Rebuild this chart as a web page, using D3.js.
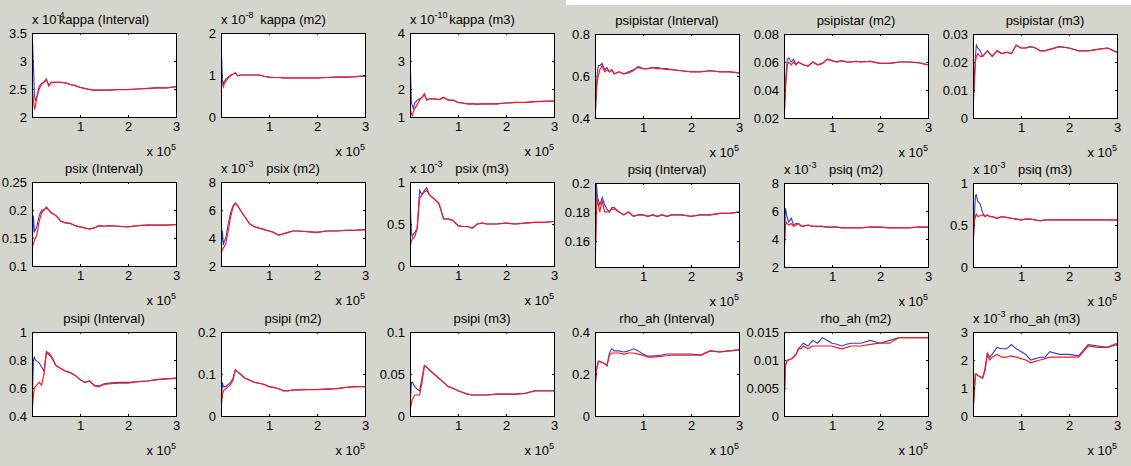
<html>
<head>
	<title>convergence plots</title>
	<script src="https://d3js.org/d3.v7.min.js"></script>
	<style>
		body { margin: 0; background: #fff; }
		text { font-family: "Liberation Sans", Arial, sans-serif; font-size: 13px; fill: #000; }
		.box { fill: none; stroke: #000; stroke-width: 1; shape-rendering: crispEdges; }
		.tick line { stroke: #000; shape-rendering: crispEdges; }
		.blue { fill: none; stroke: #3a3ad0; stroke-width: 1.1; }
		.red { fill: none; stroke: #ff1a1a; stroke-width: 1.2; }
	</style>
</head>
<body>
<svg width="1131" height="466"></svg>
<script>
// iterations, in units of 1e5
const iters = [0.01, 0.03, 0.05, 0.07, 0.1, 0.15, 0.2, 0.25, 0.3, 0.35, 0.4, 0.5, 0.6, 0.7, 0.8, 0.9, 1.0, 1.1, 1.2, 1.3, 1.4, 1.5, 1.6, 1.8, 2.0, 2.2, 2.4, 2.6, 2.8, 3.0];
const xTicks = [1, 2, 3];

// left figure
const kappaIntBlue = [3.4, 2.9, 2.4, 2.3, 2.35, 2.55, 2.6, 2.62, 2.66, 2.57, 2.62, 2.62, 2.62, 2.61, 2.58, 2.56, 2.53, 2.51, 2.49, 2.48, 2.48, 2.48, 2.48, 2.49, 2.49, 2.5, 2.51, 2.52, 2.52, 2.54];
const kappaIntRed = [2.45, 2.3, 2.15, 2.18, 2.35, 2.5, 2.58, 2.63, 2.68, 2.55, 2.62, 2.62, 2.62, 2.61, 2.58, 2.56, 2.53, 2.51, 2.49, 2.48, 2.48, 2.48, 2.48, 2.49, 2.49, 2.5, 2.51, 2.52, 2.52, 2.54];
const kappaM2Blue = [1.55, 0.85, 0.8, 0.85, 0.9, 0.95, 1.0, 1.02, 1.05, 0.98, 1.0, 1.0, 1.0, 1.0, 1.0, 0.97, 0.95, 0.94, 0.94, 0.93, 0.93, 0.93, 0.93, 0.93, 0.93, 0.94, 0.95, 0.95, 0.96, 0.98];
const kappaM2Red = [0.85, 0.8, 0.72, 0.8, 0.85, 0.93, 0.98, 1.02, 1.05, 0.98, 1.0, 1.0, 1.0, 1.0, 1.0, 0.97, 0.95, 0.94, 0.94, 0.93, 0.93, 0.93, 0.93, 0.93, 0.93, 0.94, 0.95, 0.95, 0.96, 0.98];
const kappaM3Blue = [2.7, 1.5, 1.4, 1.3, 1.5, 1.6, 1.65, 1.7, 1.8, 1.6, 1.65, 1.65, 1.62, 1.7, 1.6, 1.6, 1.52, 1.5, 1.47, 1.47, 1.46, 1.47, 1.47, 1.47, 1.5, 1.52, 1.52, 1.55, 1.56, 1.57];
const kappaM3Red = [1.25, 1.1, 1.05, 1.2, 1.3, 1.45, 1.6, 1.7, 1.83, 1.6, 1.65, 1.65, 1.62, 1.7, 1.6, 1.6, 1.52, 1.5, 1.47, 1.47, 1.46, 1.47, 1.47, 1.47, 1.5, 1.52, 1.52, 1.55, 1.56, 1.57];
const psixIntBlue = [0.15, 0.19, 0.16, 0.165, 0.17, 0.19, 0.2, 0.2, 0.205, 0.2, 0.195, 0.19, 0.18, 0.177, 0.176, 0.172, 0.17, 0.168, 0.166, 0.168, 0.172, 0.171, 0.172, 0.171, 0.17, 0.172, 0.173, 0.173, 0.173, 0.174];
const psixIntRed = [0.135, 0.14, 0.145, 0.15, 0.155, 0.18, 0.195, 0.2, 0.205, 0.2, 0.195, 0.19, 0.18, 0.177, 0.176, 0.172, 0.17, 0.168, 0.166, 0.168, 0.172, 0.171, 0.172, 0.171, 0.17, 0.172, 0.173, 0.173, 0.173, 0.174];
const psixM2Blue = [3.5, 4.5, 3.5, 3.8, 4.0, 5.0, 5.8, 6.3, 6.5, 6.3, 6.0, 5.5, 5.0, 4.8, 4.7, 4.6, 4.5, 4.4, 4.2, 4.3, 4.4, 4.5, 4.5, 4.45, 4.4, 4.5, 4.5, 4.55, 4.55, 4.6];
const psixM2Red = [3.0, 3.2, 3.3, 3.4, 3.6, 4.5, 5.5, 6.2, 6.5, 6.3, 6.0, 5.5, 5.0, 4.8, 4.7, 4.6, 4.5, 4.4, 4.2, 4.3, 4.4, 4.5, 4.5, 4.45, 4.4, 4.5, 4.5, 4.55, 4.55, 4.6];
const psixM3Blue = [0.65, 0.4, 0.35, 0.38, 0.4, 0.45, 0.9, 0.85, 0.9, 0.93, 0.85, 0.8, 0.75, 0.56, 0.56, 0.54, 0.48, 0.47, 0.47, 0.45, 0.5, 0.51, 0.5, 0.5, 0.51, 0.5, 0.51, 0.52, 0.52, 0.53];
const psixM3Red = [0.25, 0.3, 0.32, 0.33, 0.35, 0.45, 0.8, 0.85, 0.88, 0.9, 0.85, 0.8, 0.75, 0.56, 0.56, 0.54, 0.48, 0.47, 0.47, 0.45, 0.5, 0.51, 0.5, 0.5, 0.51, 0.5, 0.51, 0.52, 0.52, 0.53];
const psipiIntBlue = [0.55, 0.8, 0.82, 0.8, 0.79, 0.78, 0.75, 0.72, 0.85, 0.84, 0.82, 0.76, 0.74, 0.72, 0.71, 0.69, 0.66, 0.64, 0.65, 0.62, 0.615, 0.63, 0.635, 0.64, 0.64, 0.645, 0.65, 0.66, 0.665, 0.67];
const psipiIntRed = [0.47, 0.55, 0.6, 0.61, 0.62, 0.64, 0.62, 0.7, 0.86, 0.85, 0.83, 0.76, 0.74, 0.72, 0.71, 0.69, 0.66, 0.64, 0.65, 0.615, 0.61, 0.625, 0.63, 0.635, 0.635, 0.645, 0.65, 0.66, 0.665, 0.67];
const psipiM2Blue = [0.04, 0.08, 0.07, 0.07, 0.07, 0.075, 0.08, 0.09, 0.11, 0.105, 0.1, 0.09, 0.085, 0.08, 0.078, 0.075, 0.07, 0.068, 0.065, 0.06, 0.06, 0.062, 0.062, 0.063, 0.063, 0.064, 0.065, 0.068, 0.07, 0.07];
const psipiM2Red = [0.03, 0.05, 0.06, 0.062, 0.065, 0.07, 0.075, 0.085, 0.11, 0.105, 0.1, 0.09, 0.085, 0.08, 0.078, 0.075, 0.07, 0.068, 0.065, 0.06, 0.06, 0.062, 0.062, 0.063, 0.063, 0.064, 0.065, 0.068, 0.07, 0.07];
const psipiM3Blue = [0.02, 0.04, 0.04, 0.038, 0.035, 0.032, 0.03, 0.045, 0.06, 0.058, 0.055, 0.05, 0.045, 0.04, 0.035, 0.033, 0.03, 0.028, 0.026, 0.025, 0.025, 0.025, 0.025, 0.026, 0.026, 0.026, 0.027, 0.03, 0.03, 0.03];
const psipiM3Red = [0.01, 0.015, 0.02, 0.022, 0.025, 0.025, 0.025, 0.04, 0.06, 0.058, 0.055, 0.05, 0.045, 0.04, 0.035, 0.033, 0.03, 0.028, 0.026, 0.025, 0.025, 0.025, 0.025, 0.026, 0.026, 0.026, 0.027, 0.03, 0.03, 0.03];

// right figure
const psipistarIntBlue = [0.42, 0.55, 0.62, 0.65, 0.65, 0.66, 0.63, 0.64, 0.62, 0.63, 0.61, 0.62, 0.61, 0.62, 0.63, 0.64, 0.635, 0.635, 0.64, 0.64, 0.635, 0.635, 0.63, 0.625, 0.62, 0.62, 0.625, 0.62, 0.62, 0.615];
const psipistarIntRed = [0.45, 0.52, 0.58, 0.6, 0.63, 0.65, 0.62, 0.63, 0.62, 0.63, 0.61, 0.62, 0.61, 0.615, 0.625, 0.645, 0.635, 0.635, 0.64, 0.635, 0.635, 0.63, 0.63, 0.625, 0.62, 0.62, 0.625, 0.62, 0.62, 0.615];
const psipistarM2Blue = [0.025, 0.045, 0.055, 0.062, 0.063, 0.06, 0.062, 0.058, 0.06, 0.059, 0.058, 0.057, 0.06, 0.058, 0.059, 0.062, 0.061, 0.06, 0.061, 0.06, 0.06, 0.0605, 0.06, 0.0605, 0.059, 0.059, 0.06, 0.06, 0.0595, 0.058];
const psipistarM2Red = [0.025, 0.04, 0.05, 0.058, 0.06, 0.058, 0.06, 0.058, 0.06, 0.059, 0.058, 0.057, 0.06, 0.058, 0.059, 0.062, 0.061, 0.06, 0.061, 0.06, 0.06, 0.0605, 0.06, 0.0605, 0.059, 0.059, 0.06, 0.06, 0.0595, 0.058];
const psipistarM3Blue = [0.007, 0.015, 0.022, 0.026, 0.025, 0.024, 0.022, 0.023, 0.024, 0.023, 0.022, 0.024, 0.023, 0.0235, 0.023, 0.026, 0.025, 0.025, 0.0255, 0.025, 0.024, 0.024, 0.0245, 0.0255, 0.025, 0.024, 0.024, 0.0245, 0.025, 0.0235];
const psipistarM3Red = [0.007, 0.013, 0.02, 0.022, 0.023, 0.022, 0.022, 0.023, 0.024, 0.023, 0.022, 0.024, 0.023, 0.0235, 0.023, 0.026, 0.025, 0.025, 0.0255, 0.025, 0.024, 0.024, 0.0245, 0.0255, 0.025, 0.024, 0.024, 0.0245, 0.025, 0.0235];
const psiqIntBlue = [0.15, 0.2, 0.19, 0.188, 0.185, 0.19, 0.185, 0.182, 0.18, 0.183, 0.183, 0.18, 0.178, 0.18, 0.177, 0.178, 0.178, 0.177, 0.178, 0.177, 0.178, 0.177, 0.178, 0.178, 0.177, 0.178, 0.178, 0.179, 0.179, 0.18];
const psiqIntRed = [0.155, 0.18, 0.19, 0.185, 0.18, 0.188, 0.18, 0.18, 0.18, 0.182, 0.182, 0.18, 0.178, 0.18, 0.177, 0.178, 0.178, 0.177, 0.178, 0.177, 0.178, 0.177, 0.178, 0.178, 0.177, 0.178, 0.178, 0.179, 0.179, 0.18];
const psiqM2Blue = [3.5, 6.2, 5.8, 5.5, 5.2, 5.5, 5.0, 5.1, 5.1, 4.95, 4.9, 5.0, 4.9, 4.9, 4.9, 4.85, 4.85, 4.85, 4.8, 4.8, 4.8, 4.8, 4.8, 4.85, 4.85, 4.8, 4.8, 4.8, 4.85, 4.85];
const psiqM2Red = [3.5, 5.0, 5.2, 5.1, 5.0, 5.1, 4.9, 5.0, 5.1, 4.95, 4.9, 5.0, 4.9, 4.9, 4.9, 4.85, 4.85, 4.85, 4.8, 4.8, 4.8, 4.8, 4.8, 4.85, 4.85, 4.8, 4.8, 4.8, 4.85, 4.85];
const psiqM3Blue = [0.35, 0.6, 0.85, 0.86, 0.78, 0.75, 0.65, 0.6, 0.62, 0.6, 0.6, 0.58, 0.6, 0.59, 0.58, 0.57, 0.56, 0.57, 0.57, 0.56, 0.55, 0.56, 0.56, 0.56, 0.56, 0.56, 0.56, 0.56, 0.56, 0.56];
const psiqM3Red = [0.35, 0.55, 0.6, 0.63, 0.6, 0.61, 0.62, 0.6, 0.62, 0.6, 0.6, 0.58, 0.6, 0.59, 0.58, 0.57, 0.56, 0.57, 0.57, 0.56, 0.55, 0.56, 0.56, 0.56, 0.56, 0.56, 0.56, 0.56, 0.56, 0.56];
const rhoIntBlue = [0.16, 0.22, 0.24, 0.26, 0.26, 0.255, 0.25, 0.24, 0.3, 0.32, 0.31, 0.31, 0.305, 0.31, 0.32, 0.31, 0.295, 0.285, 0.285, 0.288, 0.29, 0.295, 0.295, 0.295, 0.295, 0.29, 0.31, 0.305, 0.31, 0.315];
const rhoIntRed = [0.16, 0.22, 0.24, 0.26, 0.26, 0.255, 0.25, 0.24, 0.29, 0.3, 0.3, 0.3, 0.295, 0.3, 0.3, 0.295, 0.29, 0.28, 0.28, 0.283, 0.285, 0.287, 0.29, 0.29, 0.29, 0.29, 0.31, 0.305, 0.31, 0.315];
const rhoM2Blue = [0.004, 0.009, 0.0095, 0.01, 0.01, 0.0102, 0.0105, 0.011, 0.012, 0.0125, 0.013, 0.0125, 0.0135, 0.013, 0.014, 0.0135, 0.013, 0.0128, 0.0125, 0.0128, 0.013, 0.013, 0.013, 0.0135, 0.013, 0.0135, 0.014, 0.014, 0.014, 0.014];
const rhoM2Red = [0.004, 0.009, 0.0095, 0.01, 0.01, 0.0102, 0.0105, 0.011, 0.012, 0.012, 0.0125, 0.012, 0.0125, 0.0125, 0.0125, 0.0125, 0.0125, 0.0122, 0.012, 0.0122, 0.0125, 0.0125, 0.0125, 0.0128, 0.013, 0.013, 0.014, 0.014, 0.014, 0.014];
const rhoM3Blue = [0.4, 1.0, 1.5, 1.5, 1.45, 1.4, 1.35, 1.7, 2.25, 2.1, 2.2, 2.45, 2.4, 2.4, 2.55, 2.4, 2.3, 2.2, 2.0, 2.05, 2.1, 2.1, 2.3, 2.2, 2.2, 2.15, 2.55, 2.5, 2.45, 2.55];
const rhoM3Red = [0.4, 0.9, 1.5, 1.5, 1.45, 1.4, 1.35, 1.6, 2.2, 2.0, 2.1, 2.2, 2.1, 2.1, 2.15, 2.1, 2.05, 2.0, 1.9, 1.95, 2.0, 2.05, 2.1, 2.1, 2.1, 2.1, 2.5, 2.45, 2.45, 2.6];

// panel table: figure, row, col, title, y exponent, y limits, y ticks, series
const panels = [
	[0, 0, 0, 'kappa (Interval)', '-4', [2, 3.5], [2, 2.5, 3, 3.5], kappaIntBlue, kappaIntRed],
	[0, 0, 1, 'kappa (m2)', '-8', [0, 2], [0, 1, 2], kappaM2Blue, kappaM2Red],
	[0, 0, 2, 'kappa (m3)', '-10', [1, 4], [1, 2, 3, 4], kappaM3Blue, kappaM3Red],
	[0, 1, 0, 'psix (Interval)', null, [0.1, 0.25], [0.1, 0.15, 0.2, 0.25], psixIntBlue, psixIntRed],
	[0, 1, 1, 'psix (m2)', '-3', [2, 8], [2, 4, 6, 8], psixM2Blue, psixM2Red],
	[0, 1, 2, 'psix (m3)', '-3', [0, 1], [0, 0.5, 1], psixM3Blue, psixM3Red],
	[0, 2, 0, 'psipi (Interval)', null, [0.4, 1], [0.4, 0.6, 0.8, 1], psipiIntBlue, psipiIntRed],
	[0, 2, 1, 'psipi (m2)', null, [0, 0.2], [0, 0.1, 0.2], psipiM2Blue, psipiM2Red],
	[0, 2, 2, 'psipi (m3)', null, [0, 0.1], [0, 0.05, 0.1], psipiM3Blue, psipiM3Red],
	[1, 0, 0, 'psipistar (Interval)', null, [0.4, 0.8], [0.4, 0.6, 0.8], psipistarIntBlue, psipistarIntRed],
	[1, 0, 1, 'psipistar (m2)', null, [0.02, 0.08], [0.02, 0.04, 0.06, 0.08], psipistarM2Blue, psipistarM2Red],
	[1, 0, 2, 'psipistar (m3)', null, [0, 0.03], [0, 0.01, 0.02, 0.03], psipistarM3Blue, psipistarM3Red],
	[1, 1, 0, 'psiq (Interval)', null, [0.142, 0.2], [0.16, 0.18, 0.2], psiqIntBlue, psiqIntRed],
	[1, 1, 1, 'psiq (m2)', '-3', [2, 8], [2, 4, 6, 8], psiqM2Blue, psiqM2Red],
	[1, 1, 2, 'psiq (m3)', '-3', [0, 1], [0, 0.5, 1], psiqM3Blue, psiqM3Red],
	[1, 2, 0, 'rho_ah (Interval)', null, [0, 0.4], [0, 0.2, 0.4], rhoIntBlue, rhoIntRed],
	[1, 2, 1, 'rho_ah (m2)', null, [0, 0.015], [0, 0.005, 0.01, 0.015], rhoM2Blue, rhoM2Red],
	[1, 2, 2, 'rho_ah (m3)', '-3', [0, 3], [0, 1, 2, 3], rhoM3Blue, rhoM3Red]
];

const figs = [
	{ cols: [32, 221, 410], rows: [33, 182, 332] },
	{ cols: [595, 784, 973], rows: [34, 183, 332] }
];
const W = 144, H = 84;

const svg = d3.select('svg');
svg.append('rect').attr('width', 1131).attr('height', 466).attr('fill', '#d4d6ce');
svg.append('rect').attr('x', 566).attr('width', 565).attr('height', 5).attr('fill', '#fff');

const x = d3.scaleLinear().domain([0, 3]).range([0, W]);

panels.forEach((p, k) => {
	const [fig, row, col, title, yexp, ylim, yticks, blue, red] = p;
	const g = svg.append('g')
		.attr('transform', `translate(${figs[fig].cols[col]},${figs[fig].rows[row]})`);
	const y = d3.scaleLinear().domain(ylim).range([H, 0]);

	g.append('clipPath').attr('id', 'clip' + k)
		.append('rect').attr('width', W).attr('height', H);
	g.append('rect').attr('width', W).attr('height', H).attr('fill', '#fff');

	const line = d3.line().x((d, i) => x(iters[i])).y(d => y(d));
	g.append('path').attr('class', 'blue').attr('clip-path', `url(#clip${k})`).attr('d', line(blue));
	g.append('path').attr('class', 'red').attr('clip-path', `url(#clip${k})`).attr('d', line(red));

	// axes, ticks point inwards
	g.append('g').call(d3.axisLeft(y).tickValues(yticks).tickSize(-2).tickPadding(5).tickFormat(String))
		.call(a => a.select('.domain').remove());
	g.append('g').attr('transform', `translate(${W},0)`)
		.call(d3.axisRight(y).tickValues(yticks).tickSize(-2).tickFormat(''))
		.call(a => a.select('.domain').remove());
	g.append('g').attr('transform', `translate(0,${H})`)
		.call(d3.axisBottom(x).tickValues(xTicks).tickSize(-2).tickPadding(5).tickFormat(String))
		.call(a => a.select('.domain').remove());
	g.append('g')
		.call(d3.axisTop(x).tickValues(xTicks).tickSize(-2).tickFormat(''))
		.call(a => a.select('.domain').remove());

	g.append('rect').attr('class', 'box').attr('x', 0).attr('y', 0).attr('width', W).attr('height', H);

	// x exponent
	const xe = g.append('text').attr('x', W).attr('y', H + 39).attr('text-anchor', 'end');
	xe.append('tspan').text('x 10');
	xe.append('tspan').attr('dy', -6).style('font-size', '9px').text('5');

	// y exponent
	if (yexp) {
		const ye = g.append('text').attr('x', 0).attr('y', -9);
		ye.append('tspan').text('x 10');
		ye.append('tspan').attr('dy', -6).style('font-size', '9px').text(yexp);
	}

	g.append('text').attr('x', W / 2).attr('y', -9).attr('text-anchor', 'middle').text(title);
});
</script>
</body>
</html>
